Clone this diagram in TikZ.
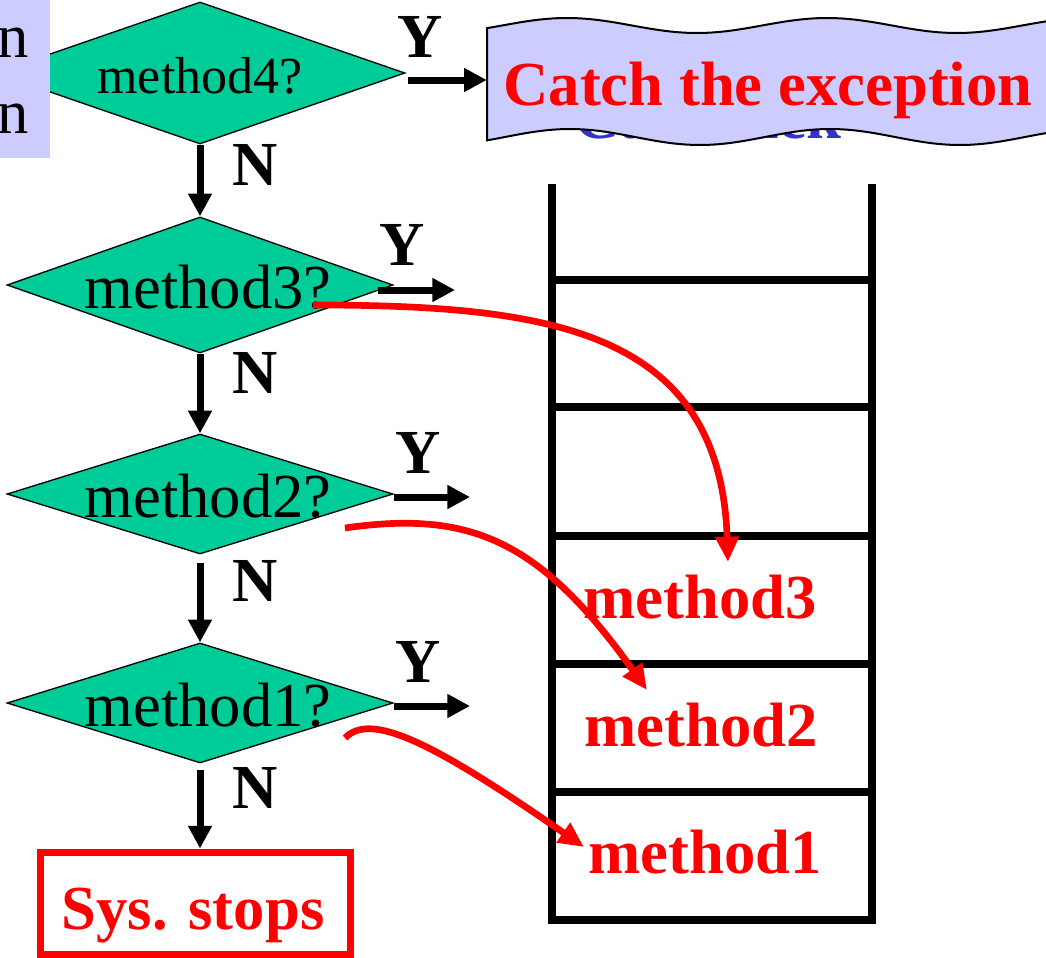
\documentclass[tikz,border=0pt]{standalone}
\usepackage{fontspec}
\setmainfont{Liberation Serif}
\usetikzlibrary{shapes.geometric,arrows.meta}
\definecolor{dgreen}{HTML}{00CC99}
\definecolor{lav}{HTML}{CCCCFF}
\definecolor{sblue}{HTML}{3333CC}
\begin{document}
\begin{tikzpicture}[x=0.75pt,y=-0.75pt,
  dia/.style={diamond, draw=black, line width=1pt, fill=dgreen, inner sep=0pt,
    minimum width=289.5pt, minimum height=90pt},
  big/.style={font=\fontsize{47}{56}\selectfont, inner sep=0pt, anchor=base},
  bigb/.style={inner sep=0pt, anchor=base, font=\fontsize{47}{56}\selectfont\bfseries},
  flow/.style={line width=5.25pt, -{Triangle[length=17pt,width=17pt]}},
  redarr/.style={red, line width=5pt, -{Triangle[length=19pt,width=17pt]}},
  stk/.style={line width=6pt, line join=miter},
  sysbox/.style={draw=red, line width=5.25pt, inner sep=0pt,
    minimum width=232.5pt, minimum height=76.5pt}
]
\useasboundingbox (0,0) rectangle (1046,957);
\clip (0,0) rectangle (1046,957);

% stack
\draw[stk] (552,184) -- (552,920) -- (872,920) -- (872,184);
\foreach \yy in {280,407,536,664,792}
  \draw[stk] (552,\yy) -- (872,\yy);

% diamonds
\node[dia, minimum width=307.5pt, minimum height=106.5pt] (d4) at (200,73) {};
\node[dia, minimum height=102pt] (d3) at (200,285) {};
\node[dia] (d2) at (200,494) {};
\node[dia] (d1) at (200,703) {};
\node[big, font=\fontsize{39}{46}\selectfont] (t4) at (200,93) {method4?};
\node[big] (t3) at (208,308) {method3?};
\node[big] (t2) at (208,517) {method2?};
\node[big] (t1) at (208,726) {method1?};

% left box fragment
\fill[lav] (0,0) rectangle (50,158);
\node[big, anchor=base east] (n1) at (29,57) {n};
\node[big, anchor=base east] (n2) at (29,133) {n};

% hidden blue text and wavy box
\node[bigb, text=sblue] (cs) at (708,138) {Call stack};
\path[fill=lav, draw=black, line width=1.5pt]
  plot[domain=487:1060, samples=90] (\x,{25.5+7.5*cos(1.3846*(\x-697))})
  -- plot[domain=1060:487, samples=90] (\x,{137+8*cos(1.3846*(\x-700))}) -- cycle;
\node[minimum width=420pt, minimum height=80pt, inner sep=0pt] (catchbox) at (767,80) {};
\node[bigb, text=red] (catch) at (768,105) {Catch the exception};

% sys stops
\node[sysbox] (sys) at (195,903) {};
\node[bigb, text=red] (syst) at (193,929) {Sys. stops};

% stack labels
\node[bigb, text=red] (m3) at (700,618) {method3};
\node[bigb, text=red] (m2) at (701,746) {method2};
\node[bigb, text=red] (m1) at (705,873) {method1};

% N arrows
\draw[flow] (d4.south) -- (d3.north);
\draw[flow] (d3.south) -- (d2.north);
\draw[flow, shorten <=6pt] (d2.south) -- (d1.north);
\draw[flow, shorten <=5pt] (d1.south) -- (d1.south |- sys.north);
\node[bigb] (n4l) at (255,185) {N};
\node[bigb] (n3l) at (255,393) {N};
\node[bigb] (n2l) at (255,601) {N};
\node[bigb] (n1l) at (255,808) {N};

% Y arrows
\draw[flow] ([xshift=2pt,yshift=-5.25pt]d4.east) -- (catchbox.west);
\coordinate (y3) at (455,290);
\coordinate (y2) at (470,497);
\coordinate (y1) at (470,706);
\draw[flow] ([xshift=-12pt,yshift=-3.75pt]d3.east) -- (y3);
\draw[flow] ([yshift=-2.25pt]d2.east) -- (y2);
\draw[flow] ([yshift=-2.25pt]d1.east) -- (y1);
\node[bigb] (y4l) at (420,57) {Y};
\node[bigb] (y3l) at (402,265) {Y};
\node[bigb] (y2l) at (418,473) {Y};
\node[bigb] (y1l) at (418,682) {Y};

% red unwinding arrows
\coordinate (r3s) at (313,305);
\coordinate (r3e) at (728,562);
\coordinate (r2s) at (345,528);
\coordinate (r2e) at (647,690);
\coordinate (r1s) at (345,738);
\coordinate (r1e) at (584,847);
\draw[redarr] (r3s) .. controls (550,305) and (720,330) .. (r3e);
\draw[redarr] (r2s) .. controls (470,510) and (540,540) .. (r2e);
\draw[redarr] (r1s) .. controls (370,712) and (430,740) .. (r1e);
\end{tikzpicture}
\end{document}
